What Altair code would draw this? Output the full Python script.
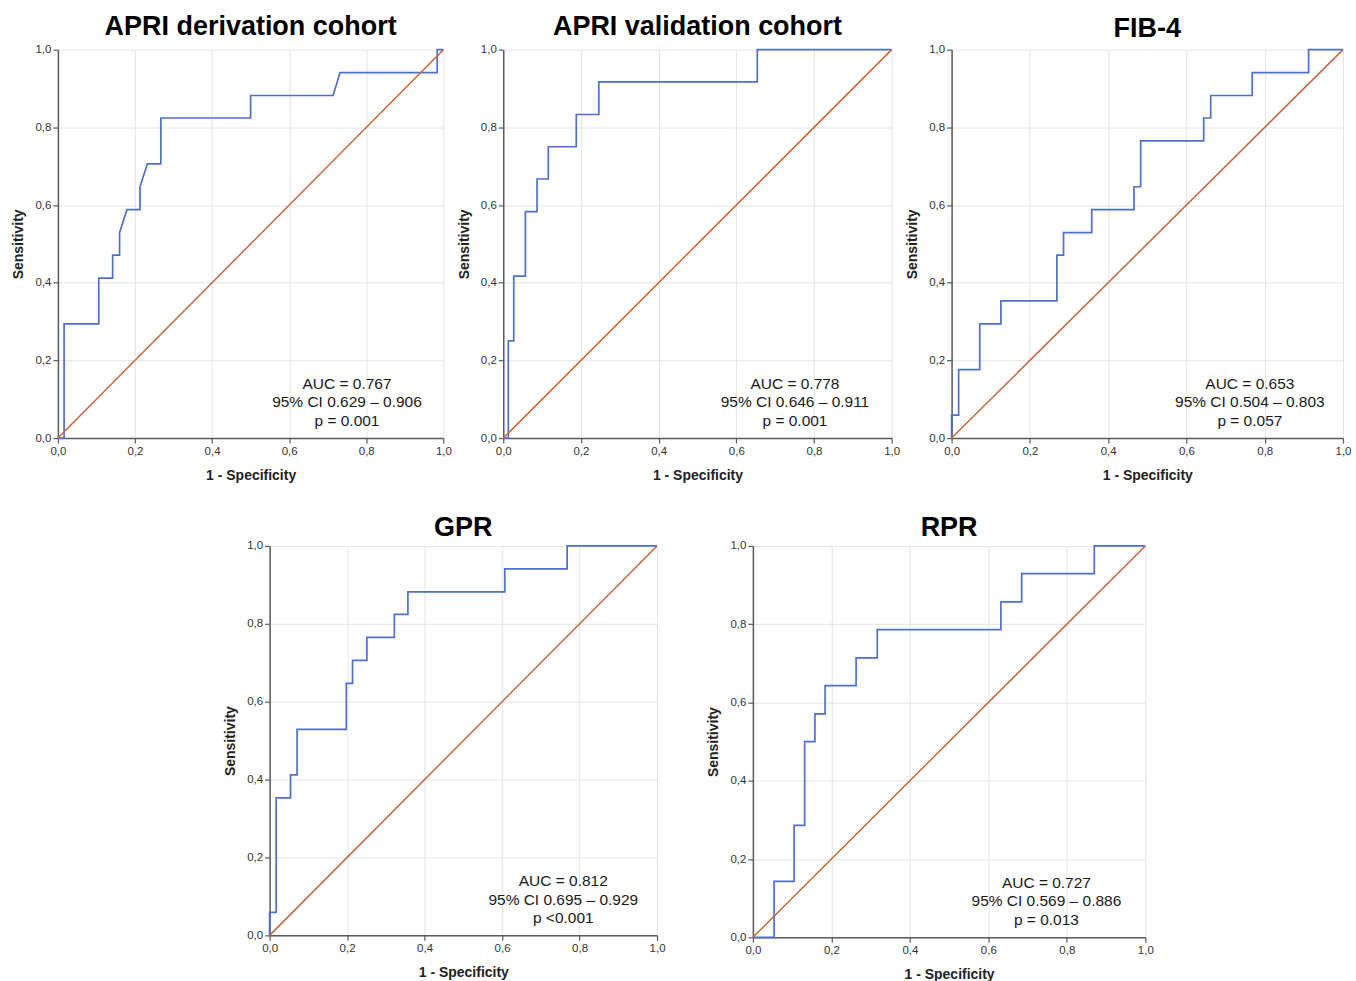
import altair as alt
import pandas as pd

FONT = "Liberation Sans, Arial, sans-serif"
BLUE = "#4f6fd1"
ORANGE = "#c9653c"

# ---- data ----
titles = ["APRI derivation cohort", "APRI validation cohort", "FIB-4", "GPR", "RPR"]

apri_der_fpr = [0, 0.016, 0.016, 0.106, 0.106, 0.142, 0.142, 0.160, 0.160, 0.179, 0.213, 0.213,
                0.232, 0.267, 0.267, 0.500, 0.500, 0.714, 0.732, 0.984, 0.984, 1.0]
apri_der_tpr = [0, 0, 0.294, 0.294, 0.412, 0.412, 0.471, 0.471, 0.529, 0.588, 0.588, 0.647,
                0.706, 0.706, 0.824, 0.824, 0.882, 0.882, 0.941, 0.941, 1.0, 1.0]

apri_val_fpr = [0, 0.013, 0.013, 0.027, 0.027, 0.057, 0.057, 0.087, 0.087, 0.116, 0.116,
                0.188, 0.188, 0.246, 0.246, 0.654, 0.654, 1.0]
apri_val_tpr = [0, 0, 0.25, 0.25, 0.417, 0.417, 0.583, 0.583, 0.667, 0.667, 0.75,
                0.75, 0.833, 0.833, 0.917, 0.917, 1.0, 1.0]

fib4_fpr = [0, 0, 0.018, 0.018, 0.072, 0.072, 0.126, 0.126, 0.269, 0.269, 0.286, 0.286,
            0.358, 0.358, 0.466, 0.466, 0.483, 0.483, 0.644, 0.644, 0.662, 0.662,
            0.768, 0.768, 0.912, 0.912, 1.0]
fib4_tpr = [0, 0.059, 0.059, 0.176, 0.176, 0.294, 0.294, 0.353, 0.353, 0.471, 0.471, 0.529,
            0.529, 0.588, 0.588, 0.647, 0.647, 0.765, 0.765, 0.824, 0.824, 0.882,
            0.882, 0.941, 0.941, 1.0, 1.0]

gpr_fpr = [0, 0, 0.017, 0.017, 0.054, 0.054, 0.071, 0.071, 0.198, 0.198, 0.214, 0.214,
           0.251, 0.251, 0.322, 0.322, 0.357, 0.357, 0.607, 0.607, 0.768, 0.768, 1.0]
gpr_tpr = [0, 0.059, 0.059, 0.353, 0.353, 0.412, 0.412, 0.529, 0.529, 0.647, 0.647, 0.706,
           0.706, 0.765, 0.765, 0.824, 0.824, 0.882, 0.882, 0.941, 0.941, 1.0, 1.0]

rpr_fpr = [0, 0.054, 0.054, 0.105, 0.105, 0.132, 0.132, 0.158, 0.158, 0.184, 0.184, 0.263,
           0.263, 0.317, 0.317, 0.632, 0.632, 0.685, 0.685, 0.870, 0.870, 1.0]
rpr_tpr = [0, 0, 0.143, 0.143, 0.286, 0.286, 0.5, 0.5, 0.571, 0.571, 0.643, 0.643,
           0.714, 0.714, 0.786, 0.786, 0.857, 0.857, 0.929, 0.929, 1.0, 1.0]

ref_line = [0, 1]

notes = [
    ["AUC = 0.767", "95% CI 0.629 \u2013 0.906", "p = 0.001"],
    ["AUC = 0.778", "95% CI 0.646 \u2013 0.911", "p = 0.001"],
    ["AUC = 0.653", "95% CI 0.504 \u2013 0.803", "p = 0.057"],
    ["AUC = 0.812", "95% CI 0.695 \u2013 0.929", "p <0.001"],
    ["AUC = 0.727", "95% CI 0.569 \u2013 0.886", "p = 0.013"],
]

tick_vals = [0, 0.2, 0.4, 0.6, 0.8, 1.0]
LABEL_EXPR = "replace(format(datum.value, '.1f'), '.', ',')"
NOTE_Y = [0.14, 0.092, 0.044]


def roc_panel(title, fpr, tpr, note, note_x, w, h, title_offset):
    curve = pd.DataFrame({"fpr": fpr, "tpr": tpr, "i": list(range(len(fpr)))})
    diag = pd.DataFrame({"fpr": ref_line, "tpr": ref_line, "i": [0, 1]})
    nd = pd.DataFrame({"t": note, "fpr": [note_x] * len(note), "tpr": NOTE_Y})

    xs = alt.Scale(domain=[0, 1], nice=False, zero=False)
    ys = alt.Scale(domain=[0, 1], nice=False, zero=False)
    xaxis = alt.Axis(values=tick_vals, labelExpr=LABEL_EXPR, title="1 - Specificity")
    yaxis = alt.Axis(values=tick_vals, labelExpr=LABEL_EXPR, title="Sensitivity")
    xenc = alt.X("fpr:Q", scale=xs, axis=xaxis)
    yenc = alt.Y("tpr:Q", scale=ys, axis=yaxis)

    blue = alt.Chart(curve).mark_line(color=BLUE, strokeWidth=1.7).encode(
        x=xenc, y=yenc, order="i:Q"
    )
    orange = alt.Chart(diag).mark_line(color=ORANGE, strokeWidth=1.5).encode(
        x=xenc, y=yenc, order="i:Q"
    )
    txt = alt.Chart(nd).mark_text(
        font=FONT, fontSize=15.5, color="#1a1a1a", align="center", baseline="middle"
    ).encode(x=xenc, y=yenc, text="t:N")
    return alt.layer(blue, orange, txt).properties(
        width=w,
        height=h,
        title=alt.TitleParams(
            text=title, font=FONT, fontSize=27, fontWeight="bold", color="#000000",
            anchor="middle", frame="group", offset=title_offset,
        ),
    )


p1 = roc_panel(titles[0], apri_der_fpr, apri_der_tpr, notes[0], 0.75, 386, 389, 3)
p2 = roc_panel(titles[1], apri_val_fpr, apri_val_tpr, notes[1], 0.751, 389, 389, 3)
p3 = roc_panel(titles[2], fib4_fpr, fib4_tpr, notes[2], 0.762, 392, 389, 1)
p4 = roc_panel(titles[3], gpr_fpr, gpr_tpr, notes[3], 0.758, 388, 390, -2)
p5 = roc_panel(titles[4], rpr_fpr, rpr_tpr, notes[4], 0.748, 393, 392, -2)

spacer = alt.Chart(pd.DataFrame({"a": [0]})).mark_point(opacity=0).encode(
    x=alt.X("a:Q", axis=None), y=alt.Y("a:Q", axis=None)
).properties(width=116, height=390)

top = alt.hconcat(p1, p2, p3, spacing=60, bounds="flush")
bottom = alt.hconcat(spacer, p4, p5, spacing=96, bounds="flush")

chart = alt.vconcat(top, bottom, spacing=31).properties(
    padding={"left": 12, "top": 12, "right": 5, "bottom": 2},
).configure_view(
    stroke=None
).configure_axis(
    domainColor="#5a5a5a",
    domainWidth=1.5,
    tickColor="#5a5a5a",
    tickWidth=1.2,
    tickSize=5,
    labelFont=FONT,
    labelFontSize=11.5,
    labelColor="#333333",
    labelPadding=2,
    gridColor="#e4e4e4",
    gridWidth=1,
    titleFont=FONT,
    titleFontSize=14,
    titleFontWeight="bold",
    titleColor="#222222",
).configure_axisY(
    titlePadding=9,
).configure_axisX(
    titlePadding=12,
    labelFlush=False,
)

chart.save("out.html", embed_options={"renderer": "svg", "actions": False})
